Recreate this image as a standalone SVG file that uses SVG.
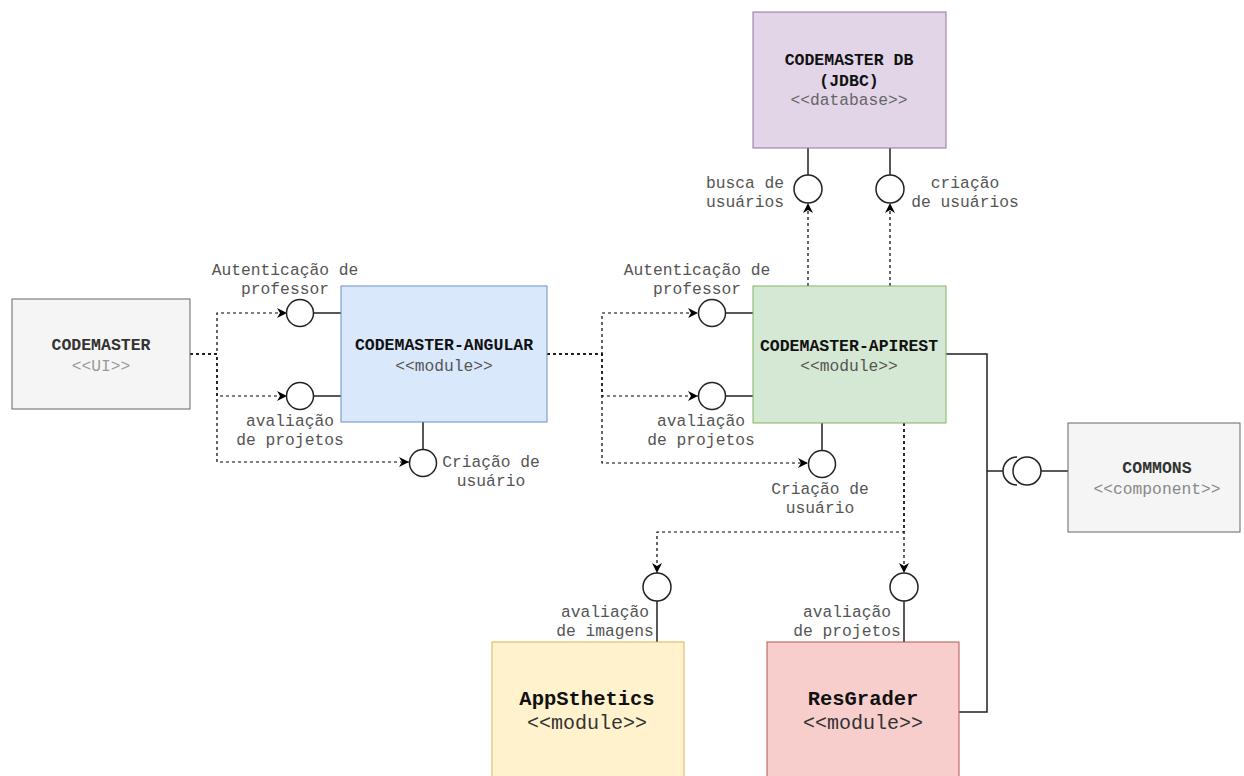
<svg xmlns="http://www.w3.org/2000/svg" width="1244" height="776" viewBox="0 0 1244 776">
<style>
text{font-family:"Liberation Mono","Courier New",monospace;text-anchor:middle}
.t{font-size:16.5px;font-weight:bold;fill:#111}
.s{font-size:16.3px;fill:#555}
.big{font-size:20.5px;font-weight:bold;fill:#111}
.bigs{font-size:20px;fill:#333}
.lbl{font-size:16.3px;fill:#555}
.d{fill:none;stroke:#000;stroke-width:1.2;stroke-dasharray:3 3}
.l{fill:none;stroke:#222;stroke-width:1.5}
.ball{fill:#fff;stroke:#222;stroke-width:1.5}
</style>
<defs>
<marker id="arr" viewBox="0 0 10 10" refX="10" refY="5" markerWidth="10" markerHeight="10" markerUnits="userSpaceOnUse" orient="auto">
<path d="M0,0 L10,5 L0,10 L3,5 z" fill="#000"/>
</marker>
</defs>
<g id="connectors">
<path class="d" d="M190,354 H217 V313 H287" marker-end="url(#arr)"/>
<path class="d" d="M190,354 H217 V396 H287" marker-end="url(#arr)"/>
<path class="d" d="M190,354 H217 V462 H409" marker-end="url(#arr)"/>
<path class="d" d="M547,354 H602 V313 H698" marker-end="url(#arr)"/>
<path class="d" d="M547,354 H602 V396 H698" marker-end="url(#arr)"/>
<path class="d" d="M547,354 H602 V463 H808" marker-end="url(#arr)"/>
<path class="d" d="M808,286 V203" marker-end="url(#arr)"/>
<path class="d" d="M890,286 V203" marker-end="url(#arr)"/>
<path class="d" d="M904,423 V573" marker-end="url(#arr)"/>
<path class="d" d="M904,423 V532 H657 V573" marker-end="url(#arr)"/>
<path class="l" d="M313,313 H341 M313,396 H341 M423,422 V449"/>
<path class="l" d="M726,313 H753 M726,396 H753 M822,423 V450"/>
<path class="l" d="M808,148 V175 M890,148 V175"/>
<path class="l" d="M657,601 V642 M904,601 V642"/>
<path class="l" d="M946,354 H987 V712 H959"/>
<path class="l" d="M987,471 H1003"/>
<path class="l" d="M1017,457 A14,14 0 0 0 1017,485"/>
<path class="l" d="M1041,471 H1068"/>
</g>
<g id="iface-left">
<circle class="ball" cx="300" cy="313" r="13.5"/>
<circle class="ball" cx="300" cy="396" r="13.5"/>
<circle class="ball" cx="423" cy="463" r="13.5"/>
<text class="lbl" x="285" y="275">Autenticação de</text>
<text class="lbl" x="285" y="294">professor</text>
<text class="lbl" x="290" y="426">avaliação</text>
<text class="lbl" x="290" y="445">de projetos</text>
<text class="lbl" x="491" y="467">Criação de</text>
<text class="lbl" x="491" y="486">usuário</text>
</g>
<g id="iface-mid">
<circle class="ball" cx="712" cy="313" r="13.5"/>
<circle class="ball" cx="712" cy="396" r="13.5"/>
<circle class="ball" cx="822" cy="464" r="13.5"/>
<text class="lbl" x="697" y="275">Autenticação de</text>
<text class="lbl" x="697" y="294">professor</text>
<text class="lbl" x="701" y="426">avaliação</text>
<text class="lbl" x="701" y="445">de projetos</text>
<text class="lbl" x="820" y="494">Criação de</text>
<text class="lbl" x="820" y="513">usuário</text>
</g>
<g id="iface-db">
<circle class="ball" cx="808" cy="189" r="14"/>
<circle class="ball" cx="890" cy="189" r="14"/>
<text class="lbl" x="745" y="188">busca de</text>
<text class="lbl" x="745" y="207">usuários</text>
<text class="lbl" x="965" y="188">criação</text>
<text class="lbl" x="965" y="207">de usuários</text>
</g>
<g id="iface-bottom">
<circle class="ball" cx="657" cy="587" r="14"/>
<circle class="ball" cx="904" cy="587" r="14"/>
<text class="lbl" x="605" y="617">avaliação</text>
<text class="lbl" x="605" y="636">de imagens</text>
<text class="lbl" x="847" y="617">avaliação</text>
<text class="lbl" x="847" y="636">de projetos</text>
</g>
<g id="iface-commons">
<circle class="ball" cx="1027" cy="471" r="14"/>
</g>
<g id="codemaster">
<rect x="12" y="299" width="178" height="110" fill="#f5f5f5" stroke="#666"/>
<text class="t" x="101" y="350" style="fill:#333">CODEMASTER</text>
<text class="s" x="101" y="371" style="fill:#999">&lt;&lt;UI&gt;&gt;</text>
</g>
<g id="codemaster-angular">
<rect x="341" y="286" width="206" height="136" fill="#dae8fc" stroke="#6c8ebf"/>
<text class="t" x="444" y="350">CODEMASTER-ANGULAR</text>
<text class="s" x="444" y="371">&lt;&lt;module&gt;&gt;</text>
</g>
<g id="codemaster-apirest">
<rect x="753" y="286" width="193" height="137" fill="#d5e8d4" stroke="#82b366"/>
<text class="t" x="849" y="351">CODEMASTER-APIREST</text>
<text class="s" x="849" y="371">&lt;&lt;module&gt;&gt;</text>
</g>
<g id="codemaster-db">
<rect x="753" y="12" width="193" height="136" fill="#e1d5e7" stroke="#9673a6"/>
<text class="t" x="849" y="65">CODEMASTER DB</text>
<text class="t" x="849" y="86">(JDBC)</text>
<text class="s" x="849" y="105" style="fill:#666">&lt;&lt;database&gt;&gt;</text>
</g>
<g id="commons">
<rect x="1068" y="423" width="172" height="109" fill="#f5f5f5" stroke="#666"/>
<text class="t" x="1157" y="473" style="fill:#333">COMMONS</text>
<text class="s" x="1157" y="494" style="fill:#888">&lt;&lt;component&gt;&gt;</text>
</g>
<g id="appsthetics">
<rect x="492" y="642" width="192" height="150" fill="#fff2cc" stroke="#d6b656"/>
<text class="big" x="587" y="705">AppSthetics</text>
<text class="bigs" x="587" y="729">&lt;&lt;module&gt;&gt;</text>
</g>
<g id="resgrader">
<rect x="767" y="642" width="192" height="150" fill="#f8cecc" stroke="#b85450"/>
<text class="big" x="863" y="705">ResGrader</text>
<text class="bigs" x="863" y="729">&lt;&lt;module&gt;&gt;</text>
</g>
</svg>
